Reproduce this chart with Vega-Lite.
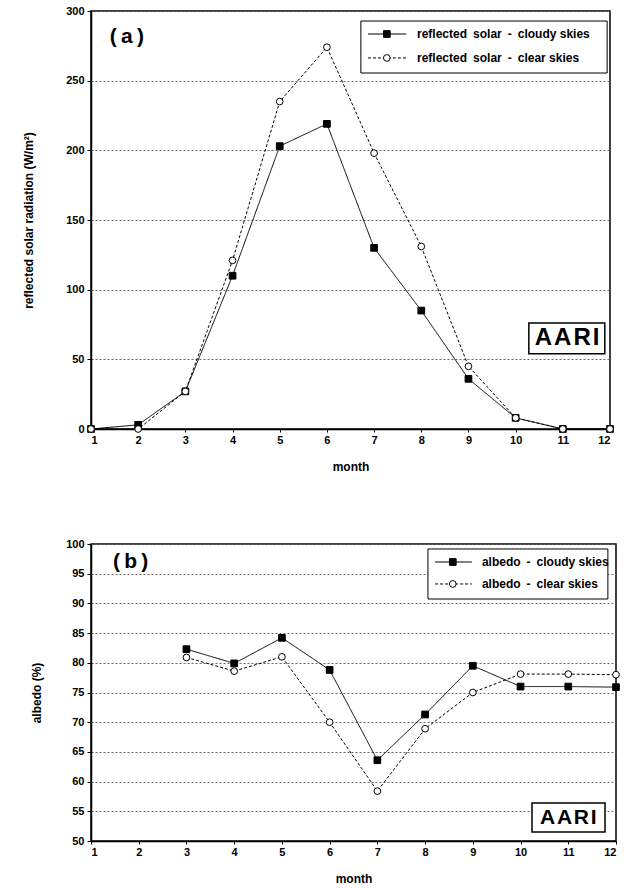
{
  "$schema": "https://vega.github.io/schema/vega-lite/v6.json",
  "padding": {"left": 21, "top": 4, "right": 3, "bottom": 5},
  "bounds": "flush",
  "spacing": 115,
  "background": "white",
  "resolve": {"scale": {"shape": "independent", "fill": "independent", "strokeDash": "independent"}},
  "config": {
    "font": "Liberation Sans",
    "view": {"stroke": "black", "strokeWidth": 1.5},
    "axis": {
      "labelFont": "Liberation Sans", "labelFontWeight": "bold", "labelFontSize": 11, "labelColor": "black",
      "titleFont": "Liberation Sans", "titleFontWeight": "bold", "titleFontSize": 12, "titleColor": "black",
      "domainColor": "black", "tickColor": "black", "domainWidth": 1.5, "tickWidth": 1
    },
    "axisY": {"grid": true, "gridColor": "#666", "gridDash": [2, 2], "gridWidth": 1, "tickSize": 4, "labelPadding": 3, "tickCount": 20},
    "axisX": {"grid": false, "tickSize": 3, "labelPadding": 2, "titlePadding": 16, "tickCount": 20}
  },
  "vconcat": [
    {
      "width": 519,
      "height": 418,
      "data": {"values": [
        {"month": 1, "value": 0, "series": "reflected solar - cloudy skies"},
        {"month": 2, "value": 3, "series": "reflected solar - cloudy skies"},
        {"month": 3, "value": 27, "series": "reflected solar - cloudy skies"},
        {"month": 4, "value": 110, "series": "reflected solar - cloudy skies"},
        {"month": 5, "value": 203, "series": "reflected solar - cloudy skies"},
        {"month": 6, "value": 219, "series": "reflected solar - cloudy skies"},
        {"month": 7, "value": 130, "series": "reflected solar - cloudy skies"},
        {"month": 8, "value": 85, "series": "reflected solar - cloudy skies"},
        {"month": 9, "value": 36, "series": "reflected solar - cloudy skies"},
        {"month": 10, "value": 8, "series": "reflected solar - cloudy skies"},
        {"month": 11, "value": 0, "series": "reflected solar - cloudy skies"},
        {"month": 12, "value": 0, "series": "reflected solar - cloudy skies"},
        {"month": 1, "value": 0, "series": "reflected solar - clear skies"},
        {"month": 2, "value": 0, "series": "reflected solar - clear skies"},
        {"month": 3, "value": 27, "series": "reflected solar - clear skies"},
        {"month": 4, "value": 121, "series": "reflected solar - clear skies"},
        {"month": 5, "value": 235, "series": "reflected solar - clear skies"},
        {"month": 6, "value": 274, "series": "reflected solar - clear skies"},
        {"month": 7, "value": 198, "series": "reflected solar - clear skies"},
        {"month": 8, "value": 131, "series": "reflected solar - clear skies"},
        {"month": 9, "value": 45, "series": "reflected solar - clear skies"},
        {"month": 10, "value": 8, "series": "reflected solar - clear skies"},
        {"month": 11, "value": 0, "series": "reflected solar - clear skies"},
        {"month": 12, "value": 0, "series": "reflected solar - clear skies"}
      ]},
      "layer": [
        {
          "mark": {"type": "line", "color": "black", "strokeWidth": 1},
          "encoding": {
            "x": {"field": "month", "type": "quantitative", "scale": {"domain": [1, 12], "nice": false},
                  "axis": {"title": "month", "values": [1,2,3,4,5,6,7,8,9,10,11,12], "format": "d"}},
            "y": {"field": "value", "type": "quantitative", "scale": {"domain": [0, 300], "nice": false},
                  "axis": {"title": "reflected solar radiation (W/m²)", "values": [0,50,100,150,200,250,300], "titlePadding": 30}},
            "strokeDash": {"field": "series", "type": "nominal",
              "scale": {"domain": ["reflected solar - cloudy skies", "reflected solar - clear skies"], "range": [[1, 0], [3, 2]]},
              "legend": null}
          }
        },
        {
          "mark": {"type": "point", "filled": true, "stroke": "black", "strokeWidth": 1, "opacity": 1, "size": 45},
          "encoding": {
            "x": {"field": "month", "type": "quantitative", "scale": {"domain": [1, 12], "nice": false},
                  "axis": {"title": "month", "values": [1,2,3,4,5,6,7,8,9,10,11,12], "format": "d"}},
            "y": {"field": "value", "type": "quantitative", "scale": {"domain": [0, 300], "nice": false},
                  "axis": {"title": "reflected solar radiation (W/m²)", "values": [0,50,100,150,200,250,300], "titlePadding": 30}},
            "shape": {"field": "series", "type": "nominal",
              "scale": {"domain": ["reflected solar - cloudy skies", "reflected solar - clear skies"], "range": ["square", "circle"]},
              "legend": null},
            "fill": {"field": "series", "type": "nominal",
              "scale": {"domain": ["reflected solar - cloudy skies", "reflected solar - clear skies"], "range": ["black", "white"]},
              "legend": null}
          }
        },
        {
          "data": {"values": [{}]},
          "mark": {"type": "rect", "fill": "white", "stroke": "black", "strokeWidth": 1},
          "encoding": {"x": {"datum": 6.72, "type": "quantitative"}, "x2": {"datum": 11.94}, "y": {"datum": 292.8, "type": "quantitative"}, "y2": {"datum": 255.5}}
        },
        {
          "data": {"values": [{}]},
          "mark": {"type": "rule", "color": "black", "strokeWidth": 1},
          "encoding": {"x": {"datum": 6.87, "type": "quantitative"}, "x2": {"datum": 7.68}, "y": {"datum": 283.5, "type": "quantitative"}}
        },
        {
          "data": {"values": [{}]},
          "mark": {"type": "rule", "color": "black", "strokeWidth": 1, "strokeDash": [3, 2]},
          "encoding": {"x": {"datum": 6.87, "type": "quantitative"}, "x2": {"datum": 7.68}, "y": {"datum": 266.3, "type": "quantitative"}}
        },
        {
          "data": {"values": [{}]},
          "mark": {"type": "point", "shape": "square", "filled": true, "fill": "black", "stroke": "black", "strokeWidth": 1, "opacity": 1, "size": 45},
          "encoding": {"x": {"datum": 7.27, "type": "quantitative"}, "y": {"datum": 283.5, "type": "quantitative"}}
        },
        {
          "data": {"values": [{}]},
          "mark": {"type": "point", "shape": "circle", "filled": true, "fill": "white", "stroke": "black", "strokeWidth": 1, "opacity": 1, "size": 45},
          "encoding": {"x": {"datum": 7.27, "type": "quantitative"}, "y": {"datum": 266.3, "type": "quantitative"}}
        },
        {
          "data": {"values": [{}]},
          "mark": {"type": "text", "text": "reflected\u2002solar\u2002-\u2002cloudy skies", "font": "Liberation Sans", "fontWeight": "bold", "fontSize": 12, "align": "left", "baseline": "middle", "color": "black"},
          "encoding": {"x": {"datum": 7.91, "type": "quantitative"}, "y": {"datum": 283.5, "type": "quantitative"}}
        },
        {
          "data": {"values": [{}]},
          "mark": {"type": "text", "text": "reflected\u2002solar\u2002-\u2002clear skies", "font": "Liberation Sans", "fontWeight": "bold", "fontSize": 12, "align": "left", "baseline": "middle", "color": "black"},
          "encoding": {"x": {"datum": 7.91, "type": "quantitative"}, "y": {"datum": 266.3, "type": "quantitative"}}
        },
        {
          "data": {"values": [{}]},
          "mark": {"type": "rect", "fill": "white", "stroke": "black", "strokeWidth": 1.5},
          "encoding": {"x": {"datum": 10.28, "type": "quantitative"}, "x2": {"datum": 11.89}, "y": {"datum": 76, "type": "quantitative"}, "y2": {"datum": 54}}
        },
        {
          "data": {"values": [{}]},
          "mark": {"type": "text", "text": "A\u200aA\u200aR\u200aI", "font": "Liberation Sans", "fontWeight": "bold", "fontSize": 24, "align": "center", "baseline": "middle", "color": "black"},
          "encoding": {"x": {"datum": 11.09, "type": "quantitative"}, "y": {"datum": 65, "type": "quantitative"}}
        },
        {
          "data": {"values": [{}]},
          "mark": {"type": "text", "text": "(\u2009a\u2009)", "font": "Liberation Sans", "fontWeight": "bold", "fontSize": 21, "align": "left", "baseline": "middle", "color": "black"},
          "encoding": {"x": {"datum": 1.4, "type": "quantitative"}, "y": {"datum": 281, "type": "quantitative"}}
        }
      ]
    },
    {
      "width": 525,
      "height": 297,
      "data": {"values": [
        {"month": 3, "value": 82.3, "series": "albedo - cloudy skies"},
        {"month": 4, "value": 79.9, "series": "albedo - cloudy skies"},
        {"month": 5, "value": 84.2, "series": "albedo - cloudy skies"},
        {"month": 6, "value": 78.8, "series": "albedo - cloudy skies"},
        {"month": 7, "value": 63.6, "series": "albedo - cloudy skies"},
        {"month": 8, "value": 71.3, "series": "albedo - cloudy skies"},
        {"month": 9, "value": 79.5, "series": "albedo - cloudy skies"},
        {"month": 10, "value": 76.0, "series": "albedo - cloudy skies"},
        {"month": 11, "value": 76.0, "series": "albedo - cloudy skies"},
        {"month": 12, "value": 75.9, "series": "albedo - cloudy skies"},
        {"month": 3, "value": 80.9, "series": "albedo - clear skies"},
        {"month": 4, "value": 78.6, "series": "albedo - clear skies"},
        {"month": 5, "value": 81.0, "series": "albedo - clear skies"},
        {"month": 6, "value": 70.0, "series": "albedo - clear skies"},
        {"month": 7, "value": 58.4, "series": "albedo - clear skies"},
        {"month": 8, "value": 68.9, "series": "albedo - clear skies"},
        {"month": 9, "value": 75.0, "series": "albedo - clear skies"},
        {"month": 10, "value": 78.1, "series": "albedo - clear skies"},
        {"month": 11, "value": 78.1, "series": "albedo - clear skies"},
        {"month": 12, "value": 78.0, "series": "albedo - clear skies"}
      ]},
      "layer": [
        {
          "mark": {"type": "line", "color": "black", "strokeWidth": 1},
          "encoding": {
            "x": {"field": "month", "type": "quantitative", "scale": {"domain": [1, 12], "nice": false},
                  "axis": {"title": "month", "values": [1,2,3,4,5,6,7,8,9,10,11,12], "format": "d"}},
            "y": {"field": "value", "type": "quantitative", "scale": {"domain": [50, 100], "nice": false, "zero": false},
                  "axis": {"title": "albedo (%)", "values": [50,55,60,65,70,75,80,85,90,95,100], "titlePadding": 22}},
            "strokeDash": {"field": "series", "type": "nominal",
              "scale": {"domain": ["albedo - cloudy skies", "albedo - clear skies"], "range": [[1, 0], [3, 2]]},
              "legend": null}
          }
        },
        {
          "mark": {"type": "point", "filled": true, "stroke": "black", "strokeWidth": 1, "opacity": 1, "size": 45},
          "encoding": {
            "x": {"field": "month", "type": "quantitative", "scale": {"domain": [1, 12], "nice": false},
                  "axis": {"title": "month", "values": [1,2,3,4,5,6,7,8,9,10,11,12], "format": "d"}},
            "y": {"field": "value", "type": "quantitative", "scale": {"domain": [50, 100], "nice": false, "zero": false},
                  "axis": {"title": "albedo (%)", "values": [50,55,60,65,70,75,80,85,90,95,100], "titlePadding": 22}},
            "shape": {"field": "series", "type": "nominal",
              "scale": {"domain": ["albedo - cloudy skies", "albedo - clear skies"], "range": ["square", "circle"]},
              "legend": null},
            "fill": {"field": "series", "type": "nominal",
              "scale": {"domain": ["albedo - cloudy skies", "albedo - clear skies"], "range": ["black", "white"]},
              "legend": null}
          }
        },
        {
          "data": {"values": [{}]},
          "mark": {"type": "rect", "fill": "white", "stroke": "black", "strokeWidth": 1},
          "encoding": {"x": {"datum": 8.06, "type": "quantitative"}, "x2": {"datum": 11.83}, "y": {"datum": 99.16, "type": "quantitative"}, "y2": {"datum": 90.74}}
        },
        {
          "data": {"values": [{}]},
          "mark": {"type": "rule", "color": "black", "strokeWidth": 1},
          "encoding": {"x": {"datum": 8.21, "type": "quantitative"}, "x2": {"datum": 8.98}, "y": {"datum": 96.97, "type": "quantitative"}}
        },
        {
          "data": {"values": [{}]},
          "mark": {"type": "rule", "color": "black", "strokeWidth": 1, "strokeDash": [3, 2]},
          "encoding": {"x": {"datum": 8.21, "type": "quantitative"}, "x2": {"datum": 8.98}, "y": {"datum": 93.27, "type": "quantitative"}}
        },
        {
          "data": {"values": [{}]},
          "mark": {"type": "point", "shape": "square", "filled": true, "fill": "black", "stroke": "black", "strokeWidth": 1, "opacity": 1, "size": 45},
          "encoding": {"x": {"datum": 8.58, "type": "quantitative"}, "y": {"datum": 96.97, "type": "quantitative"}}
        },
        {
          "data": {"values": [{}]},
          "mark": {"type": "point", "shape": "circle", "filled": true, "fill": "white", "stroke": "black", "strokeWidth": 1, "opacity": 1, "size": 45},
          "encoding": {"x": {"datum": 8.58, "type": "quantitative"}, "y": {"datum": 93.27, "type": "quantitative"}}
        },
        {
          "data": {"values": [{}]},
          "mark": {"type": "text", "text": "albedo\u2002-\u2002cloudy skies", "font": "Liberation Sans", "fontWeight": "bold", "fontSize": 12, "align": "left", "baseline": "middle", "color": "black"},
          "encoding": {"x": {"datum": 9.19, "type": "quantitative"}, "y": {"datum": 96.97, "type": "quantitative"}}
        },
        {
          "data": {"values": [{}]},
          "mark": {"type": "text", "text": "albedo\u2002-\u2002clear skies", "font": "Liberation Sans", "fontWeight": "bold", "fontSize": 12, "align": "left", "baseline": "middle", "color": "black"},
          "encoding": {"x": {"datum": 9.19, "type": "quantitative"}, "y": {"datum": 93.27, "type": "quantitative"}}
        },
        {
          "data": {"values": [{}]},
          "mark": {"type": "rect", "fill": "white", "stroke": "black", "strokeWidth": 1.5},
          "encoding": {"x": {"datum": 10.24, "type": "quantitative"}, "x2": {"datum": 11.77}, "y": {"datum": 56.4, "type": "quantitative"}, "y2": {"datum": 51.5}}
        },
        {
          "data": {"values": [{}]},
          "mark": {"type": "text", "text": "A\u200aA\u200aR\u200aI", "font": "Liberation Sans", "fontWeight": "bold", "fontSize": 21, "align": "center", "baseline": "middle", "color": "black"},
          "encoding": {"x": {"datum": 11.0, "type": "quantitative"}, "y": {"datum": 53.95, "type": "quantitative"}}
        },
        {
          "data": {"values": [{}]},
          "mark": {"type": "text", "text": "(\u2009b\u2009)", "font": "Liberation Sans", "fontWeight": "bold", "fontSize": 21, "align": "left", "baseline": "middle", "color": "black"},
          "encoding": {"x": {"datum": 1.46, "type": "quantitative"}, "y": {"datum": 97, "type": "quantitative"}}
        }
      ]
    }
  ]
}
